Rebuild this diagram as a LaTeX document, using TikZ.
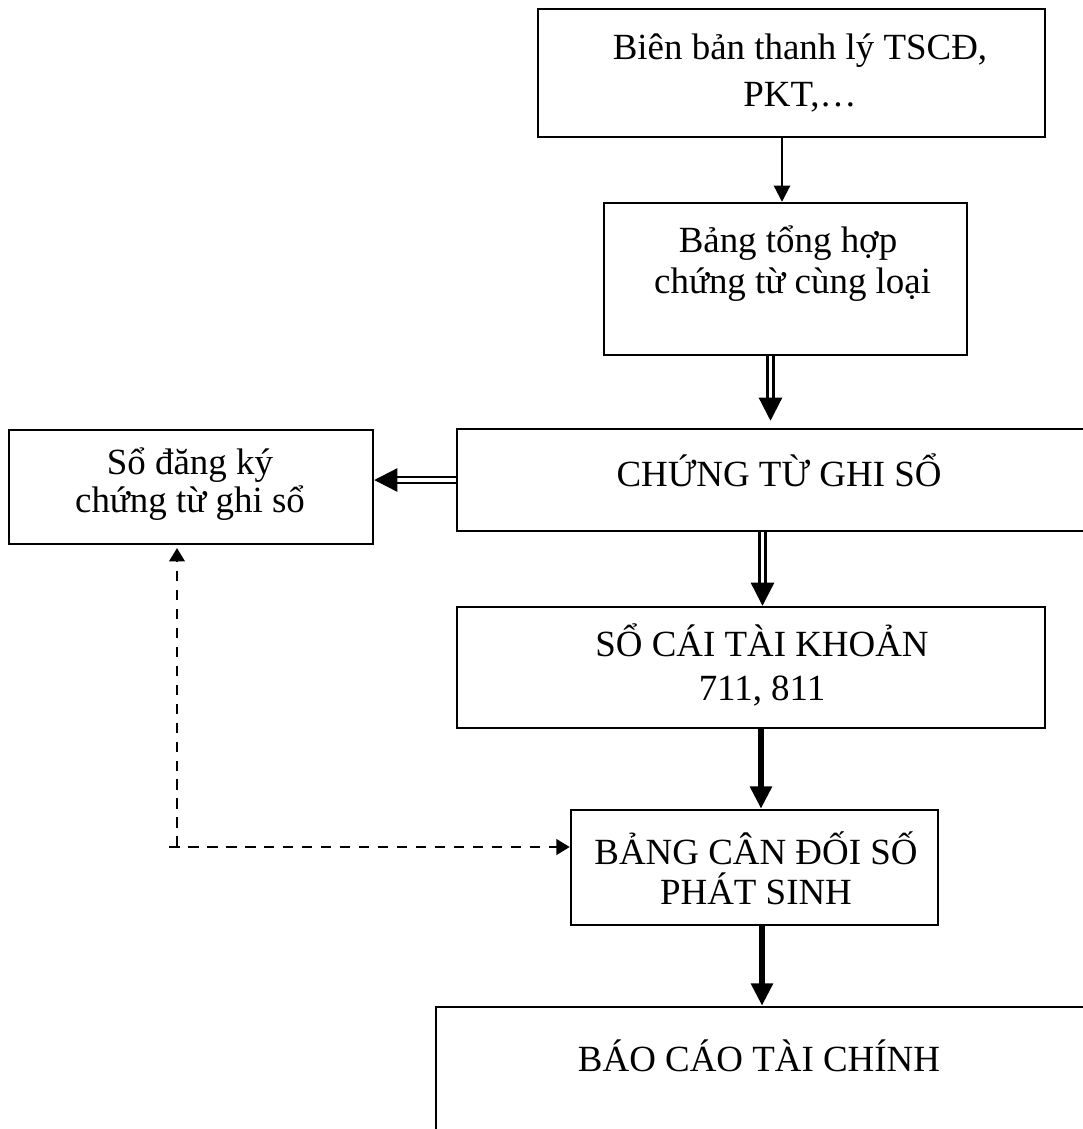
\documentclass[tikz,border=0pt]{standalone}
\usepackage{fontspec}
\setmainfont{Liberation Serif}
\usetikzlibrary{arrows.meta,fit}
\begin{document}
\begin{tikzpicture}[x=0.01cm,y=-0.01cm,
  box/.style={draw,line width=0.7pt,inner sep=0pt},
  txt/.style={align=center,inner sep=0pt,font=\fontsize{10.5}{#1}\selectfont},
  txt/.default=12.5pt,
  thinarrow/.style={line width=0.6pt,-{Triangle[length=4.6pt,width=4.6pt]}},
  dblarrow/.style={double,line width=0.65pt,double distance=1.1pt,
    -{Triangle[length=6.6pt,width=6.6pt]}},
  thickarrow/.style={line width=1.8pt,-{Triangle[length=6.4pt,width=6pt]}},
  dasharrow/.style={line width=0.75pt,dash pattern=on 3pt off 2.4pt,
    -{Triangle[length=3.8pt,width=4.4pt]}}]
\useasboundingbox (0,0) rectangle (1083,1129);
\clip (0,0) rectangle (1083,1129);

% boxes
\node[box,fit={(538,9) (1045,137)}] (b1) {};
\node[box,fit={(604,203) (967,355)}] (b2) {};
\node[box,fit={(457,429) (1100,531)}] (b3) {};
\node[box,fit={(9,430) (373,544)}] (lb) {};
\node[box,fit={(457,607) (1045,728)}] (b4) {};
\node[box,fit={(571,810) (938,925)}] (b5) {};
\node[box,fit={(436,1007) (1100,1150)}] (b6) {};

% texts
\node[txt=13.4pt] (t1) at (800,73) {Biên bản thanh lý TSCĐ,\\PKT,…};
\node[txt=11.7pt] (t2) at (788,264) {Bảng tổng hợp\\\ chứng từ cùng loại};
\node[txt] (t3) at (779,470) {CHỨNG TỪ GHI SỔ};
\node[txt=10.6pt] (tl) at (190,484) {Sổ đăng ký\\chứng từ ghi sổ};
\node[txt=12.5pt] (t4) at (762,665) {SỔ CÁI TÀI KHOẢN\\711, 811};
\node[txt=11.4pt] (t5) at (756,868) {BẢNG CÂN ĐỐI SỐ\\PHÁT SINH};
\node[txt] (t6) at (759,1056) {BÁO CÁO TÀI CHÍNH};

% connector positions
\coordinate (x1) at (782,0);
\coordinate (x2) at (770.5,0);
\coordinate (x3) at (762.5,0);
\coordinate (x4) at (761,0);
\coordinate (x5) at (762,0);
\coordinate (y1) at (0,480);
\coordinate (d1) at (169,847);
\coordinate (d2) at (177,847);

% connectors
\draw[thinarrow] (b1.south -| x1) -- (b2.north -| x1);
\draw[dblarrow,shorten >=2pt] (b2.south -| x2) -- (b3.north -| x2);
\draw[dblarrow] (b3.south -| x3) -- (b4.north -| x3);
\draw[dblarrow] (b3.west |- y1) -- (lb.east |- y1);
\draw[thickarrow] (b4.south -| x4) -- (b5.north -| x4);
\draw[thickarrow] (b5.south -| x5) -- (b6.north -| x5);
\draw[dasharrow] (d1) -- (b5.west |- d1);
\draw[dasharrow,shorten >=0.8pt] (d2) -- (lb.south -| d2);
\end{tikzpicture}
\end{document}
